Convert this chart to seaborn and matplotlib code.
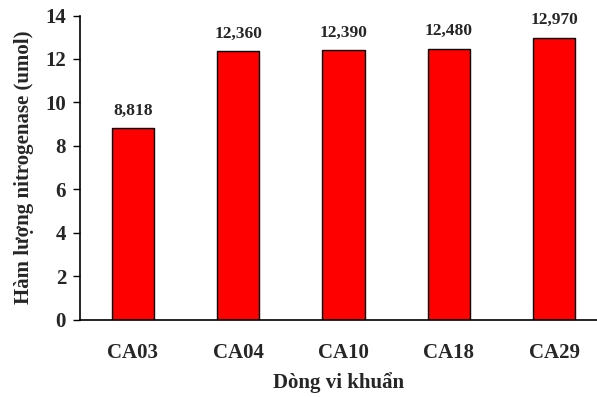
import matplotlib
matplotlib.use("Agg")
import matplotlib.pyplot as plt
import seaborn as sns
import pandas as pd

strains = ["CA03", "CA04", "CA10", "CA18", "CA29"]
nitrogenase = [8.818, 12.36, 12.39, 12.48, 12.97]
y_ticks = [0, 2, 4, 6, 8, 10, 12, 14]

sns.set_theme(style="ticks")
plt.rcParams["font.family"] = ["Liberation Serif", "DejaVu Serif"]
plt.rcParams["font.weight"] = "bold"

df = pd.DataFrame({"strain": strains, "value": nitrogenase})

fig = plt.figure(figsize=(5.97, 3.97), dpi=100)
ax = fig.add_axes([80 / 597, 77.3 / 397, 517 / 597, 304.2 / 397])

sns.barplot(data=df, x="strain", y="value", ax=ax, color="#FF0000",
            saturation=1, width=0.4, edgecolor="black", linewidth=1.0)

for i, v in enumerate(nitrogenase):
    ax.annotate(f"{v:.3f}".replace(".", ","), (i, v), xytext=(0, 7),
                textcoords="offset points", ha="center", va="bottom",
                fontsize=12.5, fontweight="bold")

ax.set_xlim(-0.5, 4.405)
ax.set_ylim(0, 14)
ax.set_yticks(y_ticks)
ax.set_yticklabels([str(t) for t in y_ticks], fontsize=15, fontweight="bold")
ax.tick_params(axis="y", direction="out", length=5, width=1, color="black", pad=5)
ax.tick_params(axis="x", length=0, pad=17, labelsize=15)
for lab in ax.get_xticklabels():
    lab.set_fontweight("bold")

for s in ["top", "right"]:
    ax.spines[s].set_visible(False)
for s in ["left", "bottom"]:
    ax.spines[s].set_color("black")
    ax.spines[s].set_linewidth(1.2)

ax.set_xlabel("Dòng vi khuẩn", fontsize=15, fontweight="bold", labelpad=6)
ax.set_ylabel("Hàm lượng nitrogenase (umol)", fontsize=15, fontweight="bold", labelpad=8)

fig.savefig("out.png", dpi=100)
